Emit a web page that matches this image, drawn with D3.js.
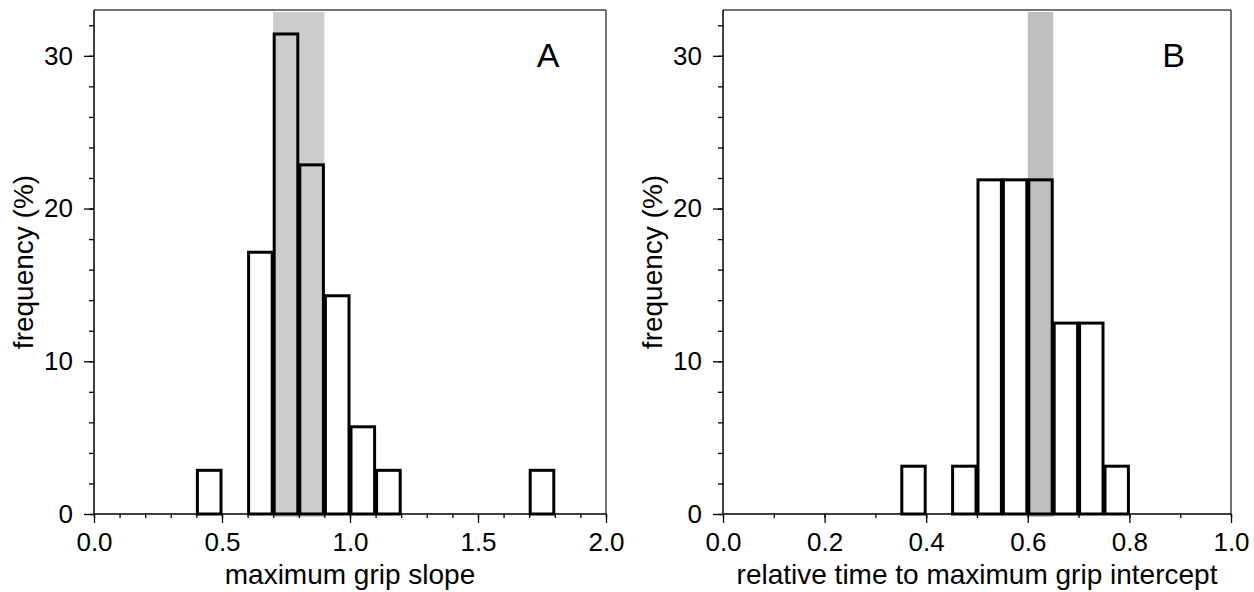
<!DOCTYPE html>
<html>
<head>
<meta charset="utf-8">
<script src="https://cdn.jsdelivr.net/npm/d3@7"></script>
<style>
  html, body { margin: 0; padding: 0; background: #fff; }
  svg { display: block; }
  text { font-family: "Liberation Sans", Arial, Helvetica, sans-serif; fill: #000; }
</style>
</head>
<body>
<svg id="chart" width="1254" height="592"></svg>
<script>
// ---- Data ----
const binStartsA = [0.4, 0.6, 0.7, 0.8, 0.9, 1.0, 1.1, 1.7];
const freqA = [2.86, 17.14, 31.43, 22.86, 14.29, 5.71, 2.86, 2.86];
const binWidthA = 0.1;
const bandA = [0.7, 0.9];
const xTicksA = [0.0, 0.5, 1.0, 1.5, 2.0];
const xMinorA = d3.range(0, 2.0001, 0.1);
const xDomainA = [0, 2];
const xLabelA = "maximum grip slope";

const binStartsB = [0.35, 0.45, 0.50, 0.55, 0.60, 0.65, 0.70, 0.75];
const freqB = [3.13, 3.13, 21.88, 21.88, 21.88, 12.5, 12.5, 3.13];
const binWidthB = 0.05;
const bandB = [0.60, 0.65];
const xTicksB = [0.0, 0.2, 0.4, 0.6, 0.8, 1.0];
const xMinorB = d3.range(0, 1.0001, 0.1);
const xDomainB = [0, 1];
const xLabelB = "relative time to maximum grip intercept";

const yTicks = [0, 10, 20, 30];
const yMinor = d3.range(0, 33, 2);
const yDomain = [0, 33];
const yLabel = "frequency (%)";

// ---- Drawing ----
const svg = d3.select("#chart");
const plotTop = 10, plotBottom = 514;

function panel(opts) {
  const { left, right, starts, freq, bw, band, bandColor, xTicks, xMinor, xDomain, xLabel, letter, tickFmt } = opts;
  const g = svg.append("g");
  const x = d3.scaleLinear().domain(xDomain).range([left, right]);
  const y = d3.scaleLinear().domain(yDomain).range([plotBottom, plotTop]);

  // shaded band
  g.append("rect")
    .attr("x", x(band[0])).attr("width", x(band[1]) - x(band[0]))
    .attr("y", y(32.87)).attr("height", y(0) - y(32.87) + 3)
    .attr("fill", bandColor);

  // frame (top/right)
  g.append("line").attr("x1", left).attr("x2", right).attr("y1", plotTop).attr("y2", plotTop)
    .attr("stroke", "#444").attr("stroke-width", 1.5);
  g.append("line").attr("x1", right).attr("x2", right).attr("y1", plotTop).attr("y2", plotBottom)
    .attr("stroke", "#444").attr("stroke-width", 1.5);

  // x axis
  const xAxis = g.append("g").attr("transform", `translate(0,${plotBottom})`);
  xAxis.call(d3.axisBottom(x).tickValues(xMinor).tickSize(4).tickFormat(""))
    .call(s => s.select(".domain").remove());
  const xMaj = g.append("g").attr("transform", `translate(0,${plotBottom})`);
  xMaj.call(d3.axisBottom(x).tickValues(xTicks).tickSize(9).tickPadding(10).tickFormat(tickFmt))
    .call(s => s.select(".domain").attr("d", `M${left},0H${right}`).attr("stroke", "#000").attr("stroke-width", 1.5));
  xMaj.selectAll(".tick text").attr("font-size", 26).attr("dy", "0.71em")
    .attr("font-family", "Liberation Sans, Arial, sans-serif");

  // y axis
  const yMin = g.append("g").attr("transform", `translate(${left},0)`);
  yMin.call(d3.axisLeft(y).tickValues(yMinor).tickSize(5).tickFormat(""))
    .call(s => s.select(".domain").remove());
  const yMaj = g.append("g").attr("transform", `translate(${left},0)`);
  yMaj.call(d3.axisLeft(y).tickValues(yTicks).tickSize(10).tickPadding(11).tickFormat(d3.format("d")))
    .call(s => s.select(".domain").attr("d", `M0,${plotTop}V${plotBottom}`).attr("stroke", "#000").attr("stroke-width", 1.5));
  yMaj.selectAll(".tick text").attr("font-size", 26)
    .attr("font-family", "Liberation Sans, Arial, sans-serif");
  g.selectAll(".tick line").attr("stroke", "#000").attr("stroke-width", 1.3);

  // bars
  g.append("g").selectAll("rect").data(starts).join("rect")
    .attr("x", (d) => x(d) + 1)
    .attr("width", (d) => x(d + bw) - x(d) - 2)
    .attr("y", (d, i) => y(freq[i]))
    .attr("height", (d, i) => y(0) - y(freq[i]))
    .attr("fill", "none").attr("stroke", "#000").attr("stroke-width", 3);

  // axis titles
  g.append("text").attr("x", (left + right) / 2).attr("y", 584)
    .attr("text-anchor", "middle").attr("font-size", 28).text(xLabel);
  g.append("text").attr("transform", `translate(${left - 61},${(plotTop + plotBottom) / 2}) rotate(-90)`)
    .attr("text-anchor", "middle").attr("font-size", 28).text(yLabel);

  // panel letter
  g.append("text").attr("x", x(xDomain[1]) - (right - left) * 0.113).attr("y", 67)
    .attr("text-anchor", "middle").attr("font-size", 34).text(letter);
}

panel({ left: 94, right: 606, starts: binStartsA, freq: freqA, bw: binWidthA, band: bandA,
  bandColor: "#cccccc", xTicks: xTicksA, xMinor: xMinorA, xDomain: xDomainA, xLabel: xLabelA,
  letter: "A", tickFmt: d3.format(".1f") });
panel({ left: 723, right: 1231, starts: binStartsB, freq: freqB, bw: binWidthB, band: bandB,
  bandColor: "#bebebe", xTicks: xTicksB, xMinor: xMinorB, xDomain: xDomainB, xLabel: xLabelB,
  letter: "B", tickFmt: d3.format(".1f") });
</script>
</body>
</html>
